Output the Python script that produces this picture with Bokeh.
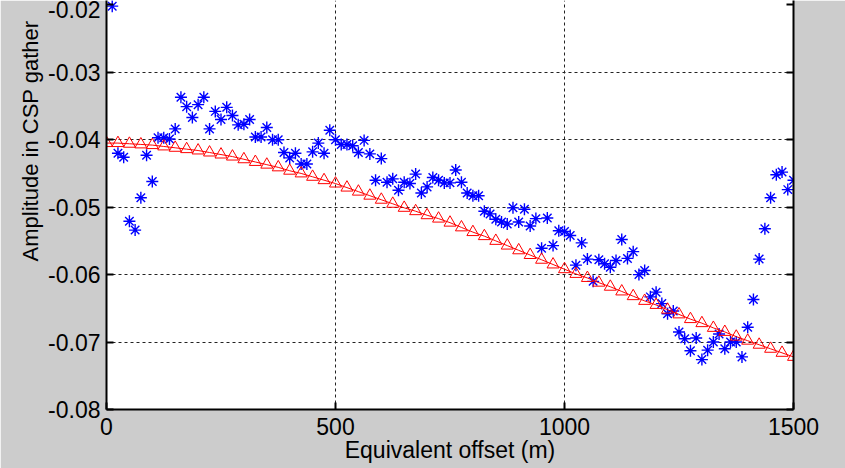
import numpy as np
from bokeh.plotting import figure
from bokeh.models import Range1d, LinearAxis, FixedTicker, Title
from bokeh.embed import file_html
from bokeh.resources import INLINE

FONT = "Liberation Sans"

# CSP gather amplitudes (blue asterisks), every 12.5 m from 12.5 to 1500 m
star_offset = np.arange(1, 121) * 12.5
star_amp = [
    -0.0202, -0.0420, -0.0426, -0.0521, -0.0534, -0.0486, -0.0423, -0.0462, -0.0397, -0.0397,
    -0.0399, -0.0384, -0.0337, -0.0351, -0.0367, -0.0348, -0.0337, -0.0384, -0.0358, -0.0370,
    -0.0352, -0.0364, -0.0378, -0.0377, -0.0370, -0.0396, -0.0396, -0.0382, -0.0400, -0.0400,
    -0.0419, -0.0427, -0.0420, -0.0436, -0.0436, -0.0418, -0.0405, -0.0420, -0.0386, -0.0400,
    -0.0407, -0.0407, -0.0409, -0.0419, -0.0401, -0.0421, -0.0460, -0.0428, -0.0463, -0.0458,
    -0.0475, -0.0463, -0.0465, -0.0451, -0.0479, -0.0470, -0.0456, -0.0460, -0.0464, -0.0464,
    -0.0445, -0.0463, -0.0479, -0.0483, -0.0483, -0.0506, -0.0510, -0.0518, -0.0522, -0.0525,
    -0.0501, -0.0522, -0.0503, -0.0528, -0.0517, -0.0561, -0.0516, -0.0557, -0.0535, -0.0536,
    -0.0542, -0.0586, -0.0553, -0.0577, -0.0610, -0.0578, -0.0584, -0.0589, -0.0579, -0.0548,
    -0.0576, -0.0566, -0.0600, -0.0594, -0.0633, -0.0626, -0.0643, -0.0658, -0.0654, -0.0685,
    -0.0695, -0.0713, -0.0694, -0.0726, -0.0712, -0.0700, -0.0688, -0.0710, -0.0700, -0.0700,
    -0.0722, -0.0678, -0.0637, -0.0577, -0.0532, -0.0486, -0.0452, -0.0448, -0.0474, -0.0460,
]

# Model amplitudes (red triangles), every 25 m from 0 to 1500 m
tri_offset = np.arange(0, 61) * 25.0
tri_amp = [
    -0.0405, -0.0405, -0.0406, -0.0407, -0.0408, -0.0410, -0.0412, -0.0414, -0.0416, -0.0419,
    -0.0422, -0.0425, -0.0429, -0.0433, -0.0437, -0.0441, -0.0446, -0.0450, -0.0455, -0.0460,
    -0.0465, -0.0471, -0.0477, -0.0483, -0.0489, -0.0495, -0.0501, -0.0506, -0.0512, -0.0517,
    -0.0523, -0.0530, -0.0537, -0.0543, -0.0550, -0.0557, -0.0564, -0.0571, -0.0578, -0.0585,
    -0.0592, -0.0599, -0.0605, -0.0612, -0.0618, -0.0625, -0.0632, -0.0639, -0.0645, -0.0652,
    -0.0659, -0.0666, -0.0672, -0.0679, -0.0685, -0.0692, -0.0698, -0.0704, -0.0710, -0.0716,
    -0.0722,
]

x_ticks = [0, 500, 1000, 1500]
x_tick_labels = ["0", "500", "1000", "1500"]
y_ticks = [-0.08, -0.07, -0.06, -0.05, -0.04, -0.03, -0.02]
y_tick_labels = ["-0.08", "-0.07", "-0.06", "-0.05", "-0.04", "-0.03", "-0.02"]
x_grid = [500, 1000]
y_grid = [-0.07, -0.06, -0.05, -0.04, -0.03]

x_title = "Equivalent offset (m)"
y_title = "Amplitude in CSP gather"

p = figure(width=845, height=468, output_backend="svg", toolbar_location=None,
           x_range=Range1d(0, 1500), y_range=Range1d(-0.08, -0.01936),
           min_border_left=106, min_border_right=52, min_border_top=0, min_border_bottom=59,
           background_fill_color="white", border_fill_color="#cccccc",
           outline_line_color=None)

# grid
p.xgrid.ticker = FixedTicker(ticks=x_grid)
p.ygrid.ticker = FixedTicker(ticks=y_grid)
for g in (p.xgrid, p.ygrid):
    g.grid_line_color = "#222222"
    g.grid_line_dash = "3 3"
    g.grid_line_width = 1

# axes
p.xaxis.ticker = FixedTicker(ticks=x_ticks)
p.xaxis.major_label_overrides = dict(zip(x_ticks, x_tick_labels))
p.yaxis.ticker = FixedTicker(ticks=y_ticks)
p.yaxis.major_label_overrides = dict(zip(y_ticks, y_tick_labels))
p.xaxis.axis_label = x_title

right = LinearAxis(ticker=FixedTicker(ticks=y_ticks))
right.major_label_overrides = {t: "" for t in y_ticks}
right.major_label_standoff = 0
p.add_layout(right, "right")

for ax in p.xaxis + p.yaxis + [right]:
    ax.axis_line_color = "black"
    ax.axis_line_width = 2
    ax.major_tick_line_color = "black"
    ax.major_tick_line_width = 2
    ax.major_tick_in = 7
    ax.major_tick_out = 0
    ax.minor_tick_line_color = None
    ax.major_label_text_font = FONT
    ax.major_label_text_color = "black"
    ax.major_label_text_font_size = "23px"
    ax.axis_label_text_font = FONT
    ax.axis_label_text_font_style = "normal"
    ax.axis_label_text_color = "black"
    ax.axis_label_text_font_size = "23px"

p.xaxis.major_label_standoff = 8
p.xaxis.axis_label_standoff = -1
p.yaxis.major_label_standoff = 6

# y axis title, placed toward the top like the reference
ytitle = Title(text=y_title, align="right", offset=20, vertical_align="bottom",
               standoff=6, text_font=FONT, text_font_size="22px",
               text_font_style="normal", text_color="black")
p.add_layout(ytitle, "left")

# data
p.scatter(star_offset, star_amp, marker="asterisk", size=12,
          line_color="#0000ff", line_width=1.4)
p.line(tri_offset, tri_amp, line_color="#ff0000", line_width=1)
p.scatter(tri_offset, tri_amp, marker="triangle", size=12,
          fill_color=None, line_color="#ff0000", line_width=1)

open("out.html", "w").write(file_html(p, INLINE))
